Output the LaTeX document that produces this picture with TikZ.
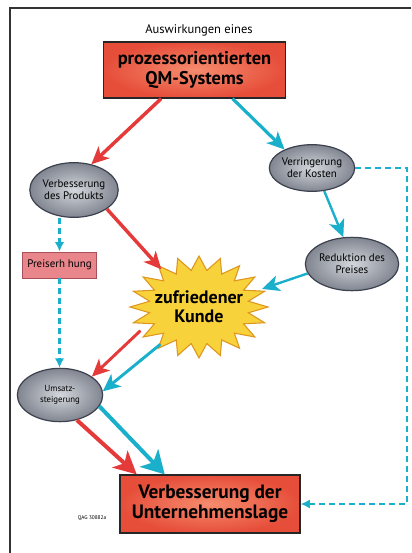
\documentclass[tikz,border=0pt]{standalone}
\usepackage{fontspec}
\setmainfont{PT Sans}
\usepackage{xcolor}
\usetikzlibrary{arrows.meta,shapes.geometric}

\definecolor{boxred}{RGB}{230,78,58}
\definecolor{boxredlight}{RGB}{246,140,110}
\definecolor{arrred}{RGB}{229,58,58}
\definecolor{arrcyan}{RGB}{26,175,203}
\definecolor{ovalgray}{RGB}{128,133,144}
\definecolor{ovallight}{RGB}{212,215,220}
\definecolor{ovalline}{RGB}{60,65,78}
\definecolor{staryellow}{RGB}{248,210,58}
\definecolor{starline}{RGB}{222,150,30}
\definecolor{pinkfill}{RGB}{232,134,140}
\definecolor{pinkline}{RGB}{170,80,90}

\tikzset{
  mainbox/.style={rectangle, draw=black!85, line width=0.9pt, inner color=boxredlight, outer color=boxred,
    align=center, font=\bfseries\fontsize{13.8}{14.5}\selectfont},
  oval/.style={ellipse, draw=ovalline, line width=0.9pt, inner color=ovallight, outer color=ovalgray,
    align=center, inner sep=0pt, font=\fontsize{8.2}{9}\selectfont},
  redarr/.style={draw=arrred, line width=2.6pt, -{Stealth[length=13pt,width=12pt,inset=3.5pt]}},
  cyanarr/.style={draw=arrcyan, line width=2.4pt, -{Stealth[length=13pt,width=12pt,inset=3.5pt]}},
  dasharr/.style={draw=arrcyan, line width=1.8pt, dash pattern=on 4.5pt off 3pt, -{Latex[length=7pt,width=7pt]}},
}

\begin{document}
\begin{tikzpicture}[x=0.75pt,y=0.75pt,yscale=-1,xscale=1]
\useasboundingbox (0,0) rectangle (411,553);

%Frame
\draw [line width=1pt, black!80] (411,8) -- (10,8) -- (10,553);

% Text Node
\node [font=\fontsize{9.4}{10}\selectfont] (head) at (199,30) {Auswirkungen eines};
%Shape: Rectangle
\node [mainbox, minimum width=136pt, minimum height=42pt] (qm) at (194.5,70) {prozessorientierten\\QM-Systems};

%Shape: Ellipse
\node [oval, minimum width=66pt, minimum height=41pt] (prod) at (74,190) {Verbesserung\\des Produkts};
%Shape: Ellipse
\node [oval, minimum width=61pt, minimum height=35pt] (kosten) at (312,168) {Verringerung\\der Kosten};
%Shape: Ellipse
\node [oval, minimum width=65pt, minimum height=40pt] (preis) at (352,264) {Reduktion des\\Preises};
%Shape: Ellipse
\node [oval, minimum width=64pt, minimum height=40pt, font=\fontsize{6.6}{8}\selectfont] (umsatz) at (60,395) {Umsatz-\\steigerung};

%Shape: Rectangle
\node [rectangle, draw=pinkline, line width=0.7pt, fill=pinkfill, minimum width=56pt, minimum height=19.5pt,
  font=\fontsize{8.2}{9}\selectfont] (erh) at (59.5,265) {Preiserh hung};

%Shape: Star
\draw [fill=staryellow, draw=starline, line width=0.8pt] plot [samples at={0,...,39}, variable=\i]
  ({199+ifthenelse(mod(\i,2)==0,69,50)*cos(\i*9)}, {307+ifthenelse(mod(\i,2)==0,51,37)*sin(\i*9)}) -- cycle;
\node [ellipse, minimum width=94pt, minimum height=67pt, align=center,
  font=\bfseries\fontsize{13.5}{14}\selectfont] (kunde) at (199,307) {zufriedener\\Kunde};

%Shape: Rectangle
\node [mainbox, minimum width=135pt, minimum height=43.5pt, font=\bfseries\fontsize{14.5}{15}\selectfont] (lage) at (210,504) {Verbesserung der\\Unternehmenslage};

% Text Node
\node [font=\fontsize{4}{5}\selectfont] (code) at (92,518) {QAG 30882a};

%Arrows
\draw [redarr] ([xshift=-25pt]qm.south) -- (prod.56);
\draw [cyanarr] ([xshift=28.5pt]qm.south) -- (kosten.146);
\draw [redarr] (prod.-30) -- (kunde.135);
\draw [cyanarr, line width=1.8pt] (kosten.-62) -- (preis.108);
\draw [cyanarr, line width=1.8pt] (preis.192) -- (kunde.16);
\draw [redarr, line width=2.2pt] (kunde.202) -- (umsatz.30);
\draw [cyanarr, line width=2.2pt] (kunde.224) -- (umsatz.5);
\draw [redarr, line width=3pt, -{Stealth[length=17pt,width=17pt,inset=4.5pt]}] (umsatz.-56) -- ([xshift=13pt]lage.north west);
\draw [cyanarr, line width=3pt, -{Stealth[length=17pt,width=19pt,inset=4.5pt]}] (umsatz.-16) -- ([xshift=34pt]lage.north west);

%Dashed
\coordinate (rt) at (407,163);
\draw [dasharr] (prod.south -| erh.north) -- (erh.north);
\draw [dasharr] (erh.south) -- (umsatz.north -| erh.south);
\draw [dasharr] (kosten.east) -- (kosten.east -| rt) |- (lage.east);

\end{tikzpicture}
\end{document}
